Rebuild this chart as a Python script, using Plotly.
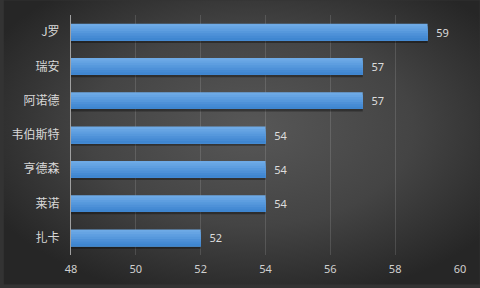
import base64
import plotly.graph_objects as go

players = ["J罗", "瑞安", "阿诺德", "韦伯斯特", "亨德森", "莱诺", "扎卡"]
ratings = [59, 57, 57, 54, 54, 54, 52]
x_ticks = [48, 50, 52, 54, 56, 58, 60]

W, H = 480, 288
L, R, T, B = 68, 20, 15, 30
pw, ph = W - L - R, H - T - B

svg = f'''<svg xmlns="http://www.w3.org/2000/svg" width="{W}" height="{H}">
<defs><radialGradient id="g" cx="0.52" cy="0.45" r="0.62">
<stop offset="0" stop-color="#575757"/><stop offset="0.55" stop-color="#444444"/>
<stop offset="1" stop-color="#262626"/></radialGradient></defs>
<rect width="{W}" height="{H}" fill="url(#g)"/></svg>'''
bg_src = "data:image/svg+xml;base64," + base64.b64encode(svg.encode()).decode()

fig = go.Figure()
base_w = 0.49
# shadow
fig.add_trace(go.Bar(x=ratings, y=players, orientation="h",
                     width=base_w, offset=-base_w / 2 + 0.07,
                     marker=dict(color="rgba(0,0,0,0.35)", line_width=0),
                     hoverinfo="skip", showlegend=False))
# gradient slices (top light to bottom dark), each covering down to the bar bottom
cols = ["#6eaae6", "#66a4e3", "#5e9ee0", "#5698dc", "#4e91d8", "#468bd4", "#3f86d0"]
n = len(cols)
sw = base_w / n
for i, c in enumerate(cols):
    fig.add_trace(go.Bar(x=ratings, y=players, orientation="h",
                         width=base_w - i * sw, offset=-base_w / 2 + i * sw,
                         marker=dict(color=c, line_width=0),
                         hoverinfo="skip", showlegend=False))
# labels
fig.add_trace(go.Bar(x=ratings, y=players, orientation="h",
                     width=base_w, offset=-base_w / 2,
                     marker=dict(color="rgba(0,0,0,0)", line_width=0),
                     text=["\u00a0\u00a0" + str(v) for v in ratings], textposition="outside",
                     textfont=dict(color="#dddddd", size=11, family="Noto Sans"),
                     cliponaxis=False, hoverinfo="skip", showlegend=False))

fig.update_layout(
    width=W, height=H, barmode="overlay",
    margin=dict(l=L, r=R, t=T, b=B, pad=0),
    paper_bgcolor="#333333", plot_bgcolor="rgba(0,0,0,0)",
    font=dict(family="Noto Sans CJK SC, Noto Sans", color="#d8d8d8"),
    images=[dict(source=bg_src, xref="paper", yref="paper",
                 x=-L / pw, y=1 + T / ph, sizex=W / pw, sizey=H / ph,
                 sizing="stretch", xanchor="left", yanchor="top", layer="below")],
    xaxis=dict(range=[48, 60], tickvals=x_ticks, showgrid=True,
               gridcolor="rgba(255,255,255,0.13)", gridwidth=1, zeroline=False,
               showline=False, ticks="", tickfont=dict(size=11, color="#d0d0d0",
               family="Noto Sans"), ticklabelstandoff=6),
    yaxis=dict(autorange="reversed", showgrid=False, showline=True,
               linecolor="#a0a0a0", linewidth=1, ticks="",
               tickfont=dict(size=12, color="#d8d8d8"), ticklabelstandoff=8),
)
fig.write_html("out.html")
